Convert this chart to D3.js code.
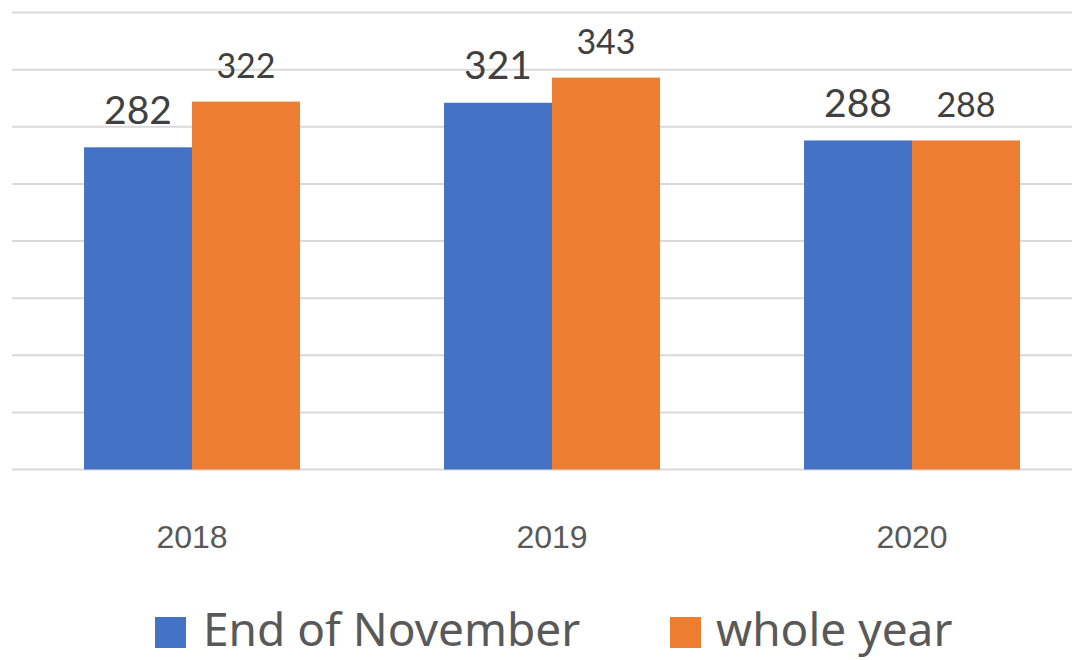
<!DOCTYPE html>
<html>
<head>
<meta charset="utf-8">
<script src="https://cdn.jsdelivr.net/npm/d3@7"></script>
<style>
  html, body { margin: 0; padding: 0; background: #fff; }
  svg { display: block; }
</style>
</head>
<body>
<svg id="chart"></svg>
<script>
// data
const years = ["2018", "2019", "2020"];
const seriesNames = ["End of November", "whole year"];
const endOfNovember = [282, 321, 288];
const wholeYear = [322, 343, 288];
const gridTicks = [0, 50, 100, 150, 200, 250, 300, 350, 400];

const width = 1072, height = 660;
const colors = ["#4472C4", "#ED7D31"];

const svg = d3.select("#chart")
    .attr("width", width)
    .attr("height", height);

// scales
const x = d3.scaleBand()
    .domain(years)
    .range([12, 1092])
    .padding(0);

const xs = d3.scaleBand()
    .domain(seriesNames)
    .range([0, x.bandwidth()])
    .paddingInner(0)
    .paddingOuter(0.667);

const y = d3.scaleLinear()
    .domain([0, 400])
    .range([469.5, 12.5]);

// gridlines
svg.append("g")
    .selectAll("line")
    .data(gridTicks)
    .join("line")
    .attr("x1", 12)
    .attr("x2", width)
    .attr("y1", d => y(d))
    .attr("y2", d => y(d))
    .attr("stroke", "#d9d9d9")
    .attr("stroke-width", 2);

// bars + value labels
const rows = years.map((yr, i) => ({
    year: yr,
    values: [endOfNovember[i], wholeYear[i]]
}));

const groups = svg.append("g")
    .selectAll("g")
    .data(rows)
    .join("g")
    .attr("transform", d => `translate(${x(d.year)},0)`);

groups.selectAll("rect")
    .data(d => d.values.map((v, j) => ({ name: seriesNames[j], v, j })))
    .join("rect")
    .attr("x", d => xs(d.name))
    .attr("width", xs.bandwidth())
    .attr("y", d => y(d.v))
    .attr("height", d => y(0) - y(d.v))
    .attr("fill", d => colors[d.j]);

groups.selectAll("text")
    .data(d => d.values.map((v, j) => ({ name: seriesNames[j], v, j })))
    .join("text")
    .attr("x", d => xs(d.name) + xs.bandwidth() / 2)
    .attr("y", d => y(d.v) - 23.5)
    .attr("text-anchor", "middle")
    .attr("font-family", "Lato, 'Noto Sans', sans-serif")
    .attr("font-size", d => d.j === 0 ? 39 : 34)
    .attr("fill", "#404040")
    .text(d => d.v);

// x axis labels
svg.append("g")
    .attr("transform", `translate(0,548)`)
    .call(d3.axisBottom(x).tickSize(0).tickPadding(0))
    .call(g => g.select(".domain").remove())
    .call(g => g.selectAll("text")
        .attr("dy", 0)
        .attr("font-family", "'Liberation Sans', Arial, sans-serif")
        .attr("font-size", 32)
        .attr("fill", "#595959"));

// legend
const legendX = [155, 670];
const legend = svg.append("g")
    .selectAll("g")
    .data(seriesNames)
    .join("g")
    .attr("transform", (d, i) => `translate(${legendX[i]},617)`);

legend.append("rect")
    .attr("width", 31)
    .attr("height", 31)
    .attr("fill", (d, i) => colors[i]);

legend.append("text")
    .attr("x", (d, i) => i === 0 ? 48 : 46)
    .attr("y", 29)
    .attr("font-family", "'Noto Sans', sans-serif")
    .attr("font-size", 46)
    .attr("fill", "#595959")
    .text(d => d);
</script>
</body>
</html>
